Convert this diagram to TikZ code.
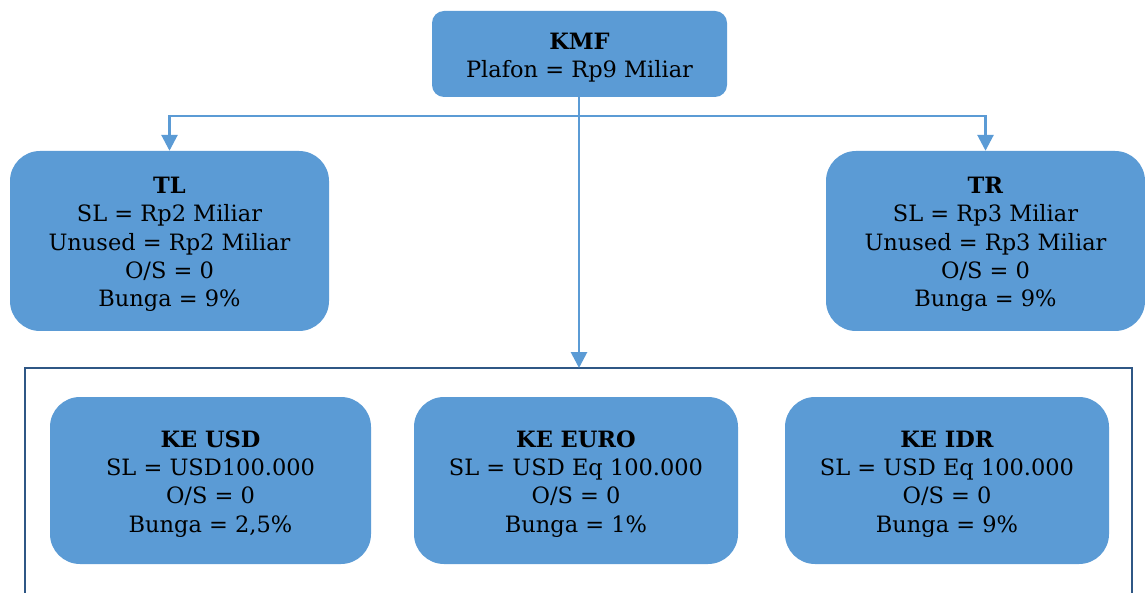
\documentclass[tikz,border=0pt]{standalone}
\usepackage{fontspec}
\setmainfont{DejaVu Serif}
\usetikzlibrary{arrows.meta}
\definecolor{boxblue}{HTML}{5B9BD5}
\definecolor{frameblue}{HTML}{2F5785}
\newcommand{\toppad}{\rule{0pt}{23.5pt}}
\begin{document}
\begin{tikzpicture}[x=1pt,y=-1pt,
  box/.style={draw=none,fill=boxblue,rounded corners=#1,inner sep=0pt,align=center,
    font=\fontsize{22.5}{28.3}\selectfont},
  conn/.style={draw=boxblue,line width=2.8pt,-{Triangle[width=16pt,length=16pt]}}]
\useasboundingbox (0,0) rectangle (1145,593);
\node[box=12pt,minimum width=295pt,minimum height=86pt] (kmf) at (579.5,54) {\toppad\textbf{KMF}\\Plafon = Rp9 Miliar};
\node[box=30pt,minimum width=319pt,minimum height=180pt] (tl) at (169.5,241) {\toppad\textbf{TL}\\SL = Rp2 Miliar\\Unused = Rp2 Miliar\\O/S = 0\\Bunga = 9\%};
\node[box=30pt,minimum width=319pt,minimum height=180pt] (tr) at (985.5,241) {\toppad\textbf{TR}\\SL = Rp3 Miliar\\Unused = Rp3 Miliar\\O/S = 0\\Bunga = 9\%};
\node[box=30pt,minimum width=321pt,minimum height=167pt] (usd) at (210.5,480.5) {\toppad\textbf{KE USD}\\SL = USD100.000\\O/S = 0\\Bunga = 2,5\%};
\node[box=30pt,minimum width=324pt,minimum height=167pt] (euro) at (576,480.5) {\toppad\textbf{KE EURO}\\SL = USD Eq 100.000\\O/S = 0\\Bunga = 1\%};
\node[box=30pt,minimum width=324pt,minimum height=167pt] (idr) at (947,480.5) {\toppad\textbf{KE IDR}\\SL = USD Eq 100.000\\O/S = 0\\Bunga = 9\%};
\coordinate (fl) at (25,593);
\coordinate (ftl) at (25,368);
\coordinate (ftr) at (1132,368);
\coordinate (fr) at (1132,593);
\draw[frameblue,line width=2.5pt] (fl) -- (ftl) -- (ftr) -- (fr);
\coordinate (kb) at (579,97);
\coordinate (ftop) at (579,368);
\draw[conn] (kb) -- (ftop);
\draw[conn] (579,116) -| (tl.north);
\draw[conn] (579,116) -| (tr.north);
\end{tikzpicture}
\end{document}
